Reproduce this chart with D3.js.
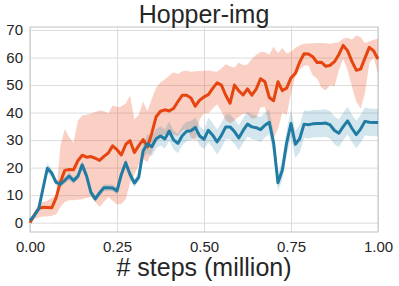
<!DOCTYPE html>
<html>
<head>
<meta charset="utf-8">
<script src="https://cdn.jsdelivr.net/npm/d3@7"></script>
<style>
  body { margin: 0; background: #fff; }
  text { font-family: "Liberation Sans", Arial, sans-serif; fill: #262626; }
</style>
</head>
<body>
<div class="chart"></div>
<script>
// training steps (million), one reading every 0.0125
const steps = [
    0, 0.0125, 0.025, 0.0375, 0.05, 0.0625, 0.075, 0.0875, 0.1, 0.1125,
    0.125, 0.1375, 0.15, 0.1625, 0.175, 0.1875, 0.2, 0.2125, 0.225, 0.2375,
    0.25, 0.2625, 0.275, 0.2875, 0.3, 0.3125, 0.325, 0.3375, 0.35, 0.3625,
    0.375, 0.3875, 0.4, 0.4125, 0.425, 0.4375, 0.45, 0.4625, 0.475, 0.4875,
    0.5, 0.5125, 0.525, 0.5375, 0.55, 0.5625, 0.575, 0.5875, 0.6, 0.6125,
    0.625, 0.6375, 0.65, 0.6625, 0.675, 0.6875, 0.7, 0.7125, 0.725, 0.7375,
    0.75, 0.7625, 0.775, 0.7875, 0.8, 0.8125, 0.825, 0.8375, 0.85, 0.8625,
    0.875, 0.8875, 0.9, 0.9125, 0.925, 0.9375, 0.95, 0.9625, 0.975, 0.9875,
    1
];

const redMean = [
    0, 2.8, 5.2, 5.6, 5.5, 5.4, 9.0, 14.8, 19.0, 19.3,
    19.2, 22.5, 24.5, 23.8, 24.0, 23.4, 22.6, 24.1, 25.3, 27.9,
    26.5, 24.6, 28.4, 29.8, 25.5, 28.0, 30.2, 27.5, 32.5, 38.5,
    40.5, 41.0, 40.6, 41.5, 44.0, 46.3, 46.3, 45.3, 42.3, 44.5,
    45.7, 46.5, 48.8, 50.8, 50.0, 46.3, 43.4, 50.0, 47.9, 46.4,
    48.6, 46.3, 48.5, 52.3, 51.2, 45.5, 44.3, 51.2, 48.0, 48.9,
    52.6, 54.3, 58.4, 61.4, 61.3, 60.3, 58.2, 58.3, 56.8, 57.2,
    58.5, 61.1, 64.4, 62.5, 58.6, 55.4, 55.8, 59.8, 63.7, 62.4,
    59.5
];
const redLo = [
    0, 1.2, 2.0, 2.2, 2.2, 2.5, 3.0, 5.7, 7.5, 8.1,
    8.1, 8.3, 8.5, 9.0, 9.3, 7.5, 5.7, 7.5, 9.3, 8.0,
    6.6, 6.8, 8.5, 14.5, 17.5, 21.0, 23.0, 22.0, 25.5, 29.5,
    31.0, 32.0, 33.5, 32.0, 31.5, 33.5, 34.0, 31.0, 29.5, 37.5,
    39.8, 39.8, 41.5, 43.0, 40.5, 37.2, 36.0, 37.2, 38.5, 39.6,
    39.5, 37.8, 38.0, 41.8, 42.0, 35.5, 30.5, 34.0, 40.0, 39.0,
    47.0, 53.0, 55.5, 57.0, 57.2, 53.5, 52.4, 49.0, 48.0, 50.0,
    49.5, 55.5, 59.5, 55.5, 49.5, 44.0, 41.5, 47.0, 58.0, 60.0,
    54.0
];
const redHi = [
    0.5, 3.5, 6.5, 7.5, 8.0, 9.0, 10.0, 28.0, 34.0, 31.0,
    29.0, 37.0, 38.9, 39.2, 39.6, 40.2, 40.8, 40.5, 39.7, 42.6,
    42.0, 42.2, 43.3, 46.2, 37.5, 39.2, 44.0, 40.5, 45.0, 49.0,
    51.0, 52.0, 53.5, 54.7, 54.0, 55.0, 55.2, 54.8, 55.0, 55.1,
    55.2, 55.3, 55.0, 54.8, 56.0, 57.6, 56.8, 56.3, 58.2, 57.2,
    57.5, 59.5, 61.0, 62.0, 62.0, 61.0, 64.0, 61.6, 63.5, 61.5,
    62.2, 63.5, 64.5, 65.0, 65.1, 65.2, 65.3, 65.3, 65.2, 65.0,
    65.3, 65.6, 66.8, 67.2, 66.6, 68.0, 67.5, 65.3, 65.8, 66.5,
    66.8
];

const blueMean = [
    0.8, 2.6, 5.0, 12.5, 19.8, 18.0, 14.6, 14.0, 15.4, 16.9,
    15.3, 16.8, 21.0, 17.0, 11.0, 8.6, 10.8, 12.7, 12.7, 12.6,
    11.5, 17.5, 21.8, 17.5, 14.4, 16.5, 26.0, 28.7, 27.6, 30.5,
    31.5, 30.4, 33.3, 30.1, 28.8, 31.6, 33.2, 33.4, 34.6, 31.5,
    30.3, 33.6, 31.8, 29.3, 31.7, 34.8, 34.8, 33.1, 30.8, 33.5,
    35.8, 34.8, 34.5, 33.8, 35.4, 36.5, 29.0, 14.5, 19.0, 29.0,
    36.0, 28.5, 30.5, 35.8, 35.6, 35.9, 36.0, 36.0, 36.2, 35.5,
    33.5, 32.5, 34.9, 37.0, 34.3, 32.0, 34.0, 36.8, 36.5, 36.4,
    36.4
];
const blueSpread = [
    0.5, 0.8, 1.0, 1.5, 1.8, 1.5, 1.2, 1.2, 1.2, 1.5,
    1.2, 1.2, 1.5, 1.5, 1.2, 1.2, 1.2, 1.2, 1.2, 1.2,
    1.2, 1.5, 1.5, 1.5, 1.5, 1.5, 2.5, 3.5, 3.5, 3.5,
    3.5, 3.5, 3.5, 3.5, 3.5, 3.5, 3.5, 3.5, 3.5, 3.5,
    3.5, 4.5, 4.5, 4.5, 4.5, 4.5, 4.5, 4.5, 4.5, 4.5,
    4.5, 4.5, 4.5, 4.5, 4.5, 4.5, 4.0, 3.0, 3.5, 4.5,
    5.0, 5.0, 5.0, 5.0, 5.0, 5.0, 5.0, 5.0, 5.0, 5.0,
    5.0, 5.0, 5.0, 5.0, 5.0, 5.0, 5.0, 5.0, 5.0, 5.0,
    5.0
];

const yTicks = [0, 10, 20, 30, 40, 50, 60, 70];
const xTicks = [0, 0.25, 0.5, 0.75, 1];
const title = 'Hopper-img';
const xLabel = '# steps (million)';

const margin = {top: 27, right: 21, bottom: 54, left: 30};
const fullWidth = 399;
const fullHeight = 286;
const width = fullWidth - margin.left - margin.right;
const height = fullHeight - margin.top - margin.bottom;

const red = '#e6450f';
const blue = '#217ca3';

const root = d3.select('.chart')
    .append('svg')
        .attr('width', fullWidth)
        .attr('height', fullHeight);

const svg = root.append('g')
    .attr('transform', `translate(${margin.left}, ${margin.top})`);

const xScale = d3.scaleLinear()
    .domain([0, 1])
    .range([0, width]);

const yScale = d3.scaleLinear()
    .domain([-3.4, 71.1])
    .range([height, 0]);

// grid + tick labels
const yAxis = d3.axisLeft(yScale)
    .tickValues(yTicks)
    .tickSizeInner(-width)
    .tickSizeOuter(0)
    .tickPadding(7);
svg.append('g')
    .call(yAxis)
    .call(g => g.select('.domain').remove())
    .call(g => g.selectAll('line').attr('stroke', '#dcdcdc').attr('stroke-width', 1))
    .call(g => g.selectAll('text').style('font-size', '15px').attr('fill', '#262626'));

const xAxis = d3.axisBottom(xScale)
    .tickValues(xTicks)
    .tickFormat(d3.format('.2f'))
    .tickSizeInner(-height)
    .tickSizeOuter(0)
    .tickPadding(9);
svg.append('g')
    .attr('transform', `translate(0, ${height})`)
    .call(xAxis)
    .call(g => g.select('.domain').remove())
    .call(g => g.selectAll('line').attr('stroke', '#dcdcdc').attr('stroke-width', 1))
    .call(g => g.selectAll('text').style('font-size', '15px').attr('fill', '#262626'));

// frame
svg.append('rect')
    .attr('width', width)
    .attr('height', height)
    .attr('fill', 'none')
    .attr('stroke', '#cccccc')
    .attr('stroke-width', 1.2);

const idx = d3.range(steps.length);

const area = (lo, hi) => d3.area()
    .x(i => xScale(steps[i]))
    .y0(i => yScale(lo(i)))
    .y1(i => yScale(hi(i)));

const line = vals => d3.line()
    .x(i => xScale(steps[i]))
    .y(i => yScale(vals[i]));

svg.append('path')
    .datum(idx)
    .attr('d', area(i => redLo[i], i => redHi[i]))
    .attr('fill', red)
    .attr('fill-opacity', 0.25);

svg.append('path')
    .datum(idx)
    .attr('d', area(i => blueMean[i] - blueSpread[i], i => blueMean[i] + blueSpread[i]))
    .attr('fill', blue)
    .attr('fill-opacity', 0.2);

svg.append('path')
    .datum(idx)
    .attr('d', line(redMean))
    .attr('fill', 'none')
    .attr('stroke', red)
    .attr('stroke-width', 3)
    .attr('stroke-linejoin', 'round');

svg.append('path')
    .datum(idx)
    .attr('d', line(blueMean))
    .attr('fill', 'none')
    .attr('stroke', blue)
    .attr('stroke-width', 3)
    .attr('stroke-linejoin', 'round');

// title and axis label
root.append('text')
    .attr('x', margin.left + width / 2)
    .attr('y', 23)
    .attr('text-anchor', 'middle')
    .style('font-size', '25px')
    .text(title);

root.append('text')
    .attr('x', margin.left + width / 2)
    .attr('y', 276)
    .attr('text-anchor', 'middle')
    .style('font-size', '25px')
    .text(xLabel);
</script>
</body>
</html>
